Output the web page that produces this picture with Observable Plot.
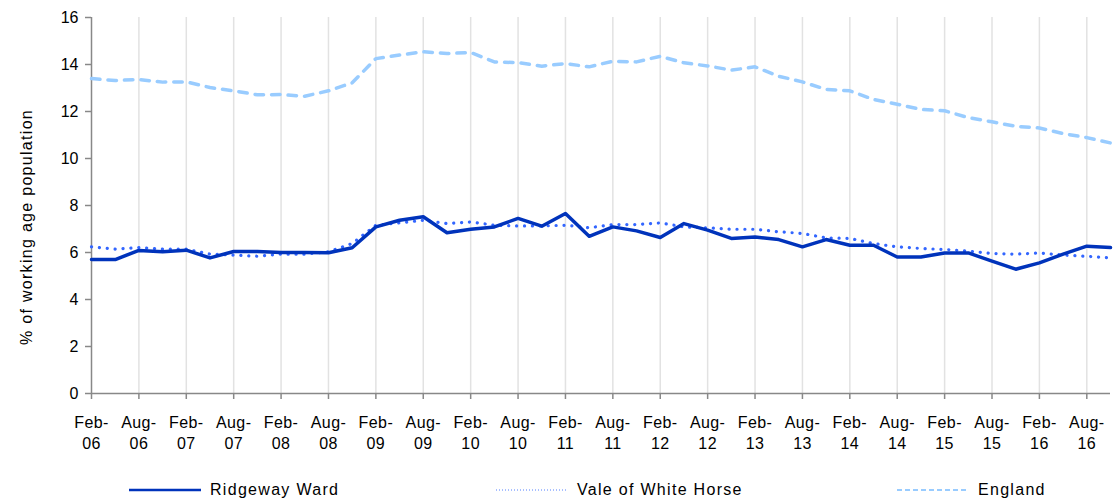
<!DOCTYPE html>
<html>
<head>
<meta charset="utf-8">
<script src="https://cdn.jsdelivr.net/npm/d3@7"></script>
<script src="https://cdn.jsdelivr.net/npm/@observablehq/plot@0.6"></script>
<style>
  html, body { margin: 0; padding: 0; background: #fff; }
  body { width: 1118px; height: 499px; position: relative; overflow: hidden; font-family: "Liberation Sans", Arial, sans-serif; }
  #legend { position: absolute; left: 0; top: 479px; width: 1118px; height: 22px; font-size: 16px; letter-spacing: 1.3px; color: #000; }
  .item { position: absolute; top: 0; height: 22px; display: flex; align-items: center; }
  .item svg { margin-right: 9px; }
</style>
</head>
<body>
<div id="chart"></div>
<div id="legend"></div>
<script>
const categories = [
  "Feb-06","May-06","Aug-06","Nov-06","Feb-07","May-07","Aug-07","Nov-07",
  "Feb-08","May-08","Aug-08","Nov-08","Feb-09","May-09","Aug-09","Nov-09",
  "Feb-10","May-10","Aug-10","Nov-10","Feb-11","May-11","Aug-11","Nov-11",
  "Feb-12","May-12","Aug-12","Nov-12","Feb-13","May-13","Aug-13","Nov-13",
  "Feb-14","May-14","Aug-14","Nov-14","Feb-15","May-15","Aug-15","Nov-15",
  "Feb-16","May-16","Aug-16","Nov-16"
];
const tickLabels = [
  "Feb-06","Aug-06","Feb-07","Aug-07","Feb-08","Aug-08","Feb-09","Aug-09",
  "Feb-10","Aug-10","Feb-11","Aug-11","Feb-12","Aug-12","Feb-13","Aug-13",
  "Feb-14","Aug-14","Feb-15","Aug-15","Feb-16","Aug-16"
];
const yTicks = [0, 2, 4, 6, 8, 10, 12, 14, 16];
const yTitle = "% of working age population";

const ridgeway = [
  5.70, 5.70, 6.09, 6.03, 6.10, 5.77, 6.04, 6.04, 6.00, 6.00, 5.99, 6.20,
  7.09, 7.37, 7.52, 6.84, 6.99, 7.09, 7.45, 7.12, 7.66, 6.69, 7.09, 6.92,
  6.64, 7.23, 6.95, 6.60, 6.66, 6.55, 6.24, 6.55, 6.31, 6.31, 5.81, 5.81,
  5.98, 5.98, 5.63, 5.29, 5.56, 5.93, 6.27, 6.21
];
const vale = [
  6.24, 6.14, 6.21, 6.14, 6.14, 5.93, 5.89, 5.84, 5.93, 5.93, 6.03, 6.38,
  7.16, 7.26, 7.37, 7.23, 7.30, 7.16, 7.13, 7.13, 7.16, 7.05, 7.19, 7.19,
  7.26, 7.09, 7.05, 6.99, 6.99, 6.88, 6.81, 6.62, 6.60, 6.38, 6.24, 6.17,
  6.13, 6.06, 5.96, 5.93, 5.98, 5.89, 5.84, 5.77
];
const england = [
  13.40, 13.32, 13.36, 13.25, 13.26, 13.02, 12.88, 12.71, 12.72, 12.65, 12.88, 13.22,
  14.25, 14.40, 14.54, 14.47, 14.51, 14.11, 14.08, 13.93, 14.04, 13.90, 14.14, 14.11,
  14.35, 14.07, 13.94, 13.76, 13.90, 13.50, 13.26, 12.94, 12.88, 12.51, 12.31, 12.09,
  12.03, 11.74, 11.56, 11.37, 11.30, 11.06, 10.89, 10.66
];

const seriesNames = ["Ridgeway Ward", "Vale of White Horse", "England"];
const colors = { "Ridgeway Ward": "#0033bb", "Vale of White Horse": "#3366ff", "England": "#99ccff" };

const rows = (arr) => categories.map((c, i) => ({ cat: c, value: arr[i] }));

const chart = Plot.plot({
  width: 1118,
  height: 472,
  marginLeft: 91,
  marginRight: 8,
  marginTop: 17,
  marginBottom: 79,
  style: { fontFamily: "'Liberation Sans', Arial, sans-serif", fontSize: "16px", color: "#000", background: "#fff" },
  x: { type: "point", domain: categories, padding: 0 },
  y: { domain: [0, 16] },
  marks: [
    Plot.gridX(tickLabels.slice(1), { stroke: "#e2e2e2", strokeOpacity: 1, strokeWidth: 1.5 }),
    Plot.axisY({ ticks: yTicks, tickSize: 6, tickPadding: 7, stroke: "#888", strokeWidth: 1.5, fill: "#000", fontSize: 16, label: null }),
    Plot.axisX({ ticks: tickLabels, tickSize: 6, tickPadding: 13, stroke: "#888", strokeWidth: 1.5, fill: "#000", fontSize: 16,
      lineHeight: 1.35, tickFormat: (d) => d.replace("-", "-\n"), label: null }),
    Plot.text([yTitle], { text: (d) => d, frameAnchor: "left", textAnchor: "middle", rotate: -90, dx: -64.5, dy: 21.5,
      fontSize: 16, fill: "#000", ariaLabel: () => "ytitle" }),
    Plot.ruleY([0], { stroke: "#888", strokeWidth: 1.5 }),
    Plot.ruleX([categories[0]], { stroke: "#888", strokeWidth: 1.5 }),
    Plot.line(rows(england), { x: "cat", y: "value", stroke: colors["England"], strokeWidth: 3.5,
      strokeDasharray: "8.5 8", strokeLinecap: "round" }),
    Plot.line(rows(vale), { x: "cat", y: "value", stroke: colors["Vale of White Horse"], strokeWidth: 3.2,
      strokeDasharray: "0.1 7.8", strokeLinecap: "round" }),
    Plot.line(rows(ridgeway), { x: "cat", y: "value", stroke: colors["Ridgeway Ward"], strokeWidth: 3.5 })
  ]
});
document.getElementById("chart").appendChild(chart);
d3.select(chart).selectAll("text").filter(function () { return this.textContent === yTitle; }).style("letter-spacing", "1.3px");
d3.select(chart).selectAll('g[aria-label="x-axis tick label"] text').style("letter-spacing", "0.4px");

// Legend
const legendPos = [129, 496, 897];
const dashes = { "Ridgeway Ward": null, "Vale of White Horse": "1 2", "England": "5 3" };
const legend = d3.select("#legend");
seriesNames.forEach((name, i) => {
  const item = legend.append("div").attr("class", "item").style("left", legendPos[i] + "px");
  const svg = item.append("svg").attr("width", 72).attr("height", 10);
  const ln = svg.append("line").attr("x1", 0).attr("x2", 72).attr("y1", 5).attr("y2", 5)
    .attr("stroke", colors[name]).attr("stroke-width", name === "Ridgeway Ward" ? 2.5 : 2);
  if (dashes[name]) ln.attr("stroke-dasharray", dashes[name]);
  if (name === "Vale of White Horse") ln.attr("stroke", "#a8bfff");
  item.append("span").text(name);
});
</script>
</body>
</html>
